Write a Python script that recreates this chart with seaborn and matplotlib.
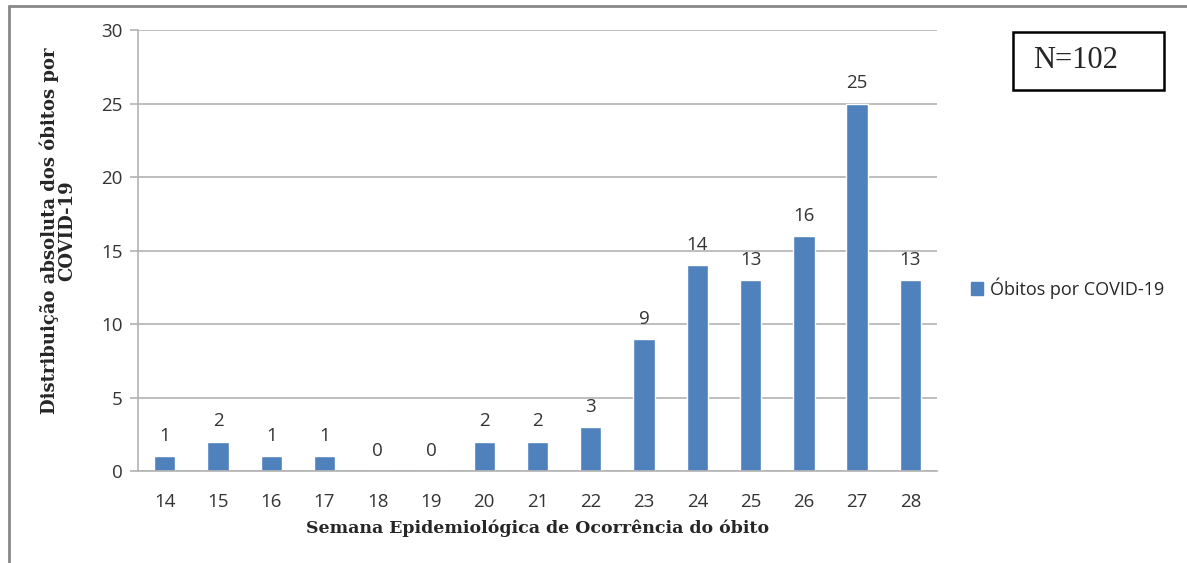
import matplotlib
matplotlib.use("Agg")
import matplotlib.pyplot as plt
import seaborn as sns
import pandas as pd
from matplotlib.patches import Patch, Rectangle
from matplotlib.lines import Line2D

# Data
weeks = ["14", "15", "16", "17", "18", "19", "20", "21", "22", "23", "24", "25", "26", "27", "28"]
deaths = [1, 2, 1, 1, 0, 0, 2, 2, 3, 9, 14, 13, 16, 25, 13]
series_name = "Óbitos por COVID-19"

df = pd.DataFrame({"semana": weeks, "obitos": deaths})

sns.set_theme(style="white")
plt.rcParams["font.family"] = ["Open Sans", "DejaVu Sans"]

bar_color = "#4F81BD"
grid_color = "#B3B3B3"
serif = ["DejaVu Serif", "Liberation Serif"]

fig = plt.figure(figsize=(11.87, 5.63), dpi=100)
ax = fig.add_axes([0.1163, 0.1634, 0.6731, 0.7833])

sns.barplot(data=df, x="semana", y="obitos", color=bar_color, width=0.4,
            saturation=1, ax=ax)

ax.set_ylim(0, 30)
ax.set_yticks(range(0, 31, 5))
ax.set_xlim(-0.5, len(weeks) - 0.5)
ax.yaxis.grid(True, color=grid_color, linewidth=1.2)
ax.set_axisbelow(True)

for side in ["top", "right"]:
    ax.spines[side].set_visible(False)
for side in ["left", "bottom"]:
    ax.spines[side].set_color(grid_color)
    ax.spines[side].set_linewidth(1.2)

ax.tick_params(axis="y", left=True, length=6, color=grid_color, width=1.2,
               labelsize=13.5, labelcolor="#333333", pad=5)
ax.tick_params(axis="x", bottom=False, labelsize=13.5, labelcolor="#333333", pad=10)

# value labels above bars
for cont in ax.containers:
    ax.bar_label(cont, labels=[str(v) for v in deaths], padding=8,
                 fontsize=13.5, color="#333333")

ax.set_xlabel("Semana Epidemiológica de Ocorrência do óbito",
              family=serif, fontweight="bold", fontsize=12.5, labelpad=6)
ax.set_ylabel("Distribuição absoluta dos óbitos por\nCOVID-19",
              family=serif, fontweight="bold", fontsize=13, linespacing=1.0)
ax.yaxis.set_label_coords(-0.077, 0.544)

# legend on the right
handle = Patch(facecolor=bar_color, edgecolor=bar_color)
fig.legend([handle], [series_name], loc="center left",
           bbox_to_anchor=(0.804, 0.488), frameon=False, fontsize=13,
           handlelength=0.7, handleheight=0.7, handletextpad=0.35)

# N=102 box
fig.add_artist(Rectangle((0.8534, 0.8401), 0.1272, 0.103, transform=fig.transFigure,
                         facecolor="white", edgecolor="black", linewidth=1.8))
fig.text(0.9065, 0.8917, "N=102", family=["Liberation Serif", "DejaVu Serif"],
         fontsize=22, ha="center", va="center")

# outer chart frame (left and top edges visible)
fig.add_artist(Line2D([0.0076, 0.0076], [0.0, 0.99], transform=fig.transFigure,
                      color="#888888", linewidth=2))
fig.add_artist(Line2D([0.0076, 1.0], [0.99, 0.99], transform=fig.transFigure,
                      color="#888888", linewidth=2))

fig.savefig("out.png", dpi=100)
